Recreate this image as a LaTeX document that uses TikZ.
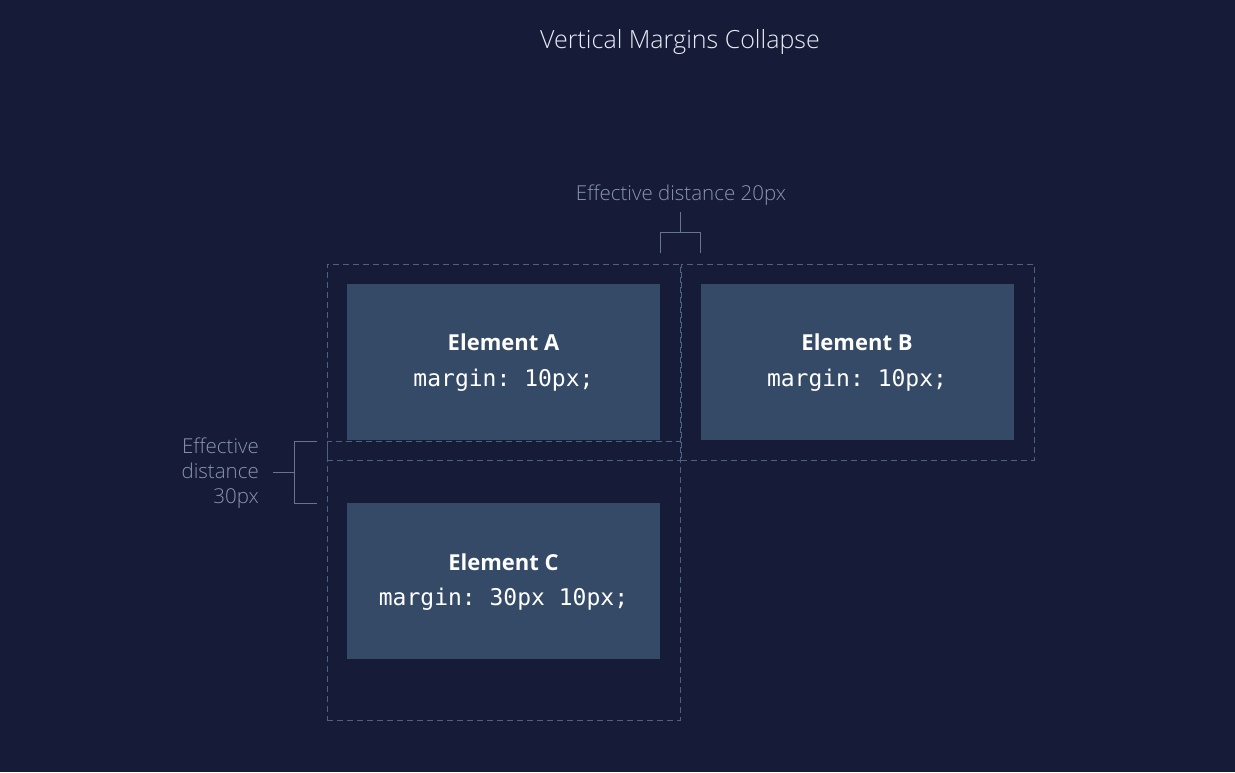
\documentclass[tikz,border=0pt]{standalone}
\usepackage{fontspec}
\setmainfont{Open Sans}
\setmonofont{DejaVu Sans Mono}
\newfontfamily\lightfont{Open Sans Light}
\usetikzlibrary{calc}
\definecolor{bgnavy}{HTML}{161B38}
\definecolor{elemfill}{HTML}{344A66}
\definecolor{dashcol}{HTML}{4B6282}
\definecolor{bracketcol}{HTML}{65748F}
\definecolor{labelcol}{HTML}{8896AE}
\definecolor{titlecol}{HTML}{E8ECF4}
\begin{document}
\begin{tikzpicture}[x=1pt,y=-1pt,
    element/.style={fill=elemfill,minimum width=313pt,minimum height=156pt,inner sep=0pt,outer sep=0pt},
    marginbox/.style={draw=dashcol,line width=0.9pt,dash pattern=on 6pt off 4pt,inner sep=0pt,outer sep=0pt,minimum width=353pt},
    elname/.style={anchor=base,text=white,font=\fontsize{22}{26}\selectfont\bfseries},
    elcode/.style={anchor=base,text=white,font=\fontsize{23}{28}\selectfont\ttfamily},
    bracket/.style={draw=bracketcol,line width=0.9pt},
    dist/.style={text=labelcol,inner sep=0pt,font=\fontsize{20.5}{25}\selectfont\lightfont}]
        %% Background
        \fill[bgnavy] (0,0) rectangle (1235,772);
        \useasboundingbox (0,0) rectangle (1235,772);
        \node[anchor=base,text=titlecol,font=\fontsize{25}{29}\selectfont\lightfont] (title) at (680,48) {Vertical Margins Collapse};
        %% Margin boxes
        \node[marginbox,minimum height=196pt] (mA) at (503.5,362) {};
        \node[marginbox,minimum height=196pt] (mB) at (857.5,362) {};
        \node[marginbox,minimum height=279pt] (mC) at (503.5,580.5) {};
        %% Blocks
        \node[element] (A) at (503.5,362) {};
        \node[element] (B) at (857,362) {};
        \node[element] (C) at (503.5,581) {};
        %% Texts
        \node[elname] (Aname) at ([yshift=12pt]A.center) {Element A};
        \node[elcode] (Acode) at ([yshift=-24pt]A.center) {margin: 10px;};
        \node[elname] (Bname) at ([yshift=12pt]B.center) {Element B};
        \node[elcode] (Bcode) at ([yshift=-24pt]B.center) {margin: 10px;};
        \node[elname] (Cname) at ([yshift=11pt]C.center) {Element C};
        \node[elcode] (Ccode) at ([yshift=-24pt]C.center) {margin: 30px 10px;};
        %% Bracket 20px
        \coordinate (tl) at ([yshift=31pt]A.north east);
        \coordinate (tr) at ([yshift=31pt]B.north west);
        \draw[bracket] (tl) -- ++(0,-21) -| (tr);
        \draw[bracket] ($(tl)!0.5!(tr)+(0,-21)$) -- ++(0,-20);
        \node[dist,anchor=base] (d20) at (681,200) {Effective distance 20px};
        %% Bracket 30px
        \coordinate (lt) at ([xshift=-10pt]mC.north west);
        \coordinate (lb) at ([xshift=-30pt]C.north west);
        \draw[bracket] (lt) -- ++(-23,0) |- (lb);
        \draw[bracket] ($(lt)!0.5!(lb)+(-23,0)$) -- ++(-21,0);
        \node[dist,align=right,anchor=east] (d30) at (259,473) {Effective\\distance\\30px};
    \end{tikzpicture}
\end{document}
